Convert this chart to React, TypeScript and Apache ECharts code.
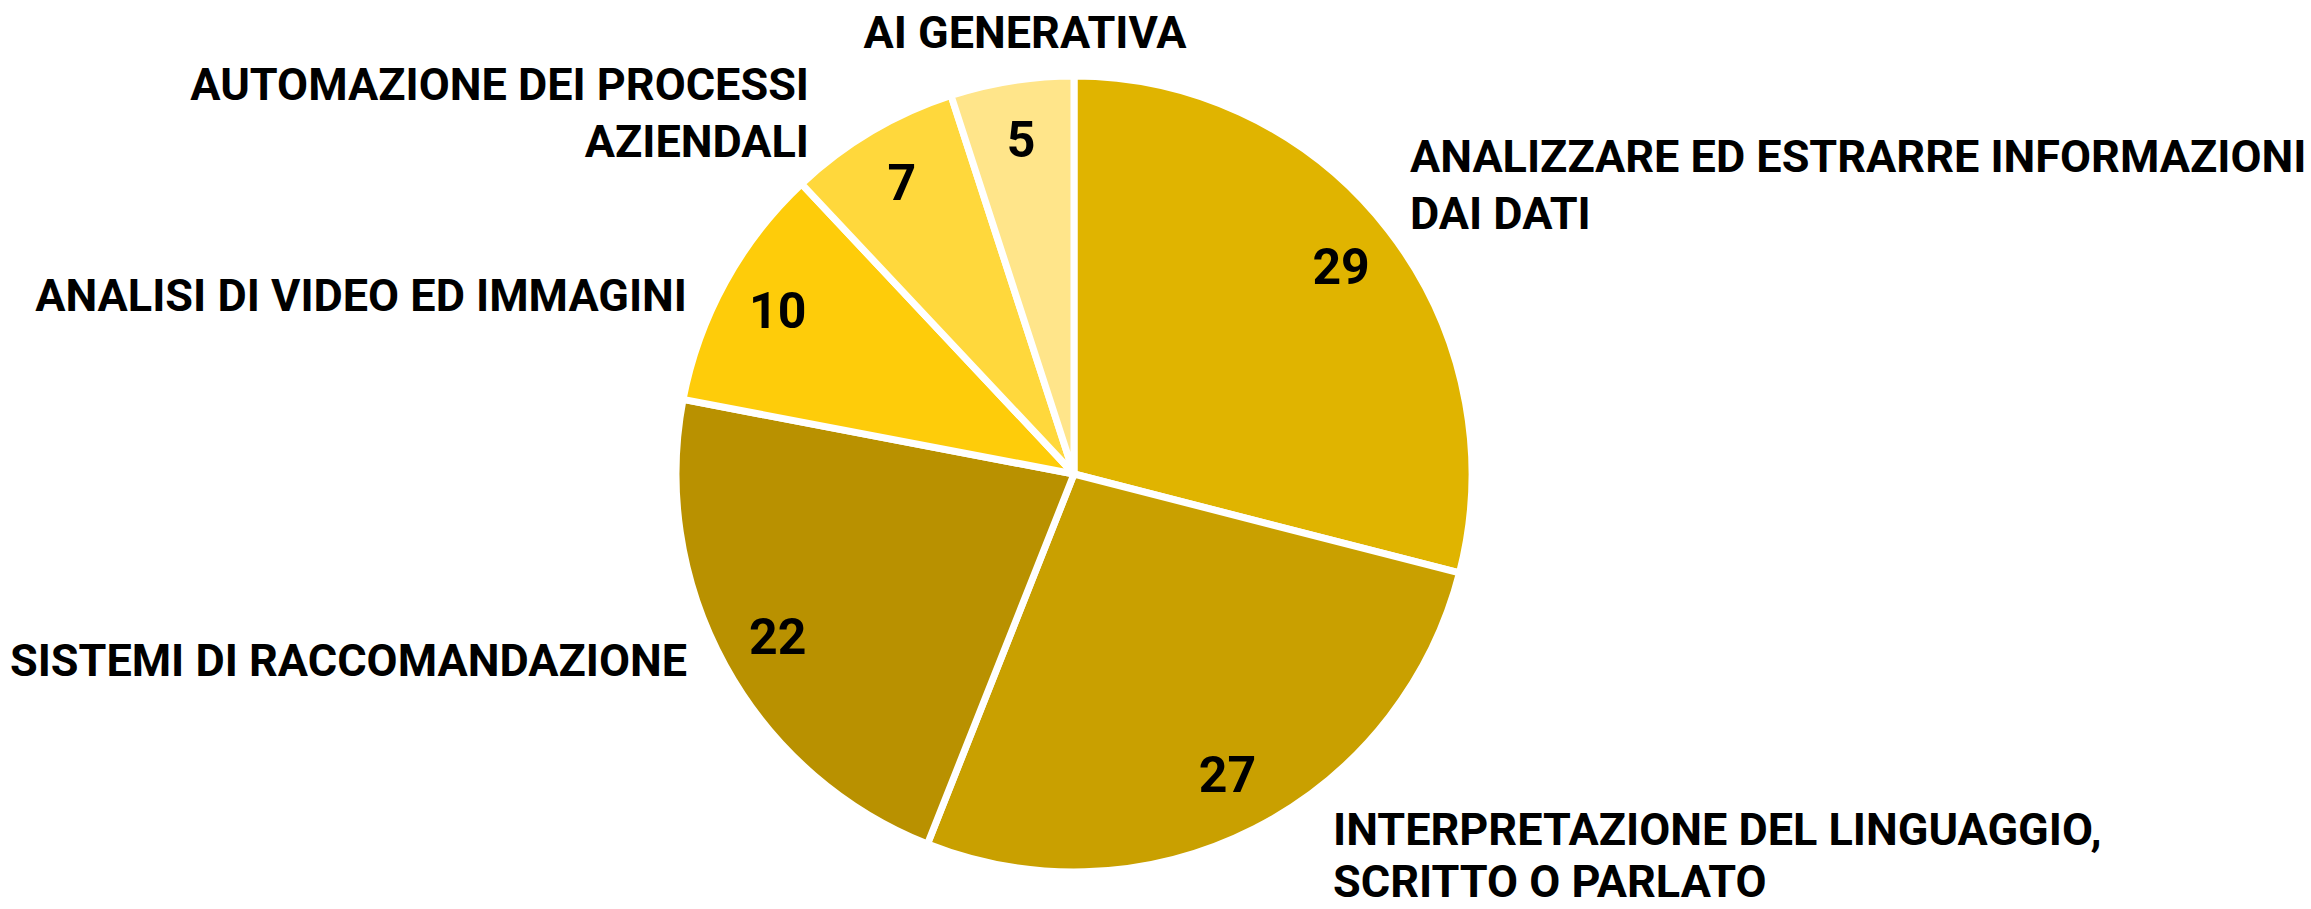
import React, { useEffect, useRef } from "react";
import * as echarts from "echarts";

// ---- data ----
const categories = [
  "ANALIZZARE ED ESTRARRE INFORMAZIONI\nDAI DATI",
  "INTERPRETAZIONE DEL LINGUAGGIO,\nSCRITTO O PARLATO",
  "SISTEMI DI RACCOMANDAZIONE",
  "ANALISI DI VIDEO ED IMMAGINI",
  "AUTOMAZIONE DEI PROCESSI\nAZIENDALI",
  "AI GENERATIVA",
];
const values = [29, 27, 22, 10, 7, 5];
const colors = ["#E0B400", "#C9A000", "#B99100", "#FECC0A", "#FFD83C", "#FFE58A"];

// ---- layout / style ----
const CX = 1074;
const CY = 474;
const R = 398;
const R_VALUE_INNER = 272;
// name-label anchors relative to pie centre: [dx, dy, align, lineHeight]
const nameAnchors: [number, number, string, number][] = [
  [336, -289, "left", 57],
  [259, 381, "left", 52],
  [-387, 186, "right", 57],
  [-387, -179, "right", 57],
  [-265, -361, "right", 57],
  [-49, -442, "center", 57],
];
const FONT = "Roboto, 'Noto Sans', sans-serif";

export default function App() {
  const ref = useRef<HTMLDivElement>(null);
  useEffect(() => {
    const chart = echarts.init(ref.current!, null, { renderer: "svg" });
    const data = categories.map((name, i) => ({
      name,
      value: values[i],
      itemStyle: { color: colors[i] },
      label: { lineHeight: nameAnchors[i][3] },
    }));
    chart.setOption({
      animation: false,
      backgroundColor: "#ffffff",
      series: [
        {
          type: "pie",
          center: [CX, CY],
          radius: R,
          startAngle: 90,
          clockwise: true,
          avoidLabelOverlap: false,
          silent: true,
          itemStyle: { borderColor: "#ffffff", borderWidth: 7 },
          label: {
            show: true,
            position: "outside",
            formatter: "{b}",
            color: "#000000",
            fontFamily: FONT,
            fontWeight: "bold",
            fontSize: 45,
            lineHeight: 57,
            overflow: "none",
          },
          labelLine: { show: false },
          labelLayout: (p: any) => {
            const a = nameAnchors[p.dataIndex];
            return { x: CX + a[0], y: CY + a[1], align: a[2], verticalAlign: "middle" };
          },
          data,
        },
        {
          type: "pie",
          center: [CX, CY],
          radius: [R_VALUE_INNER, R],
          startAngle: 90,
          clockwise: true,
          avoidLabelOverlap: false,
          silent: true,
          itemStyle: { color: "rgba(0,0,0,0)", borderWidth: 0 },
          label: {
            show: true,
            position: "inside",
            formatter: "{c}",
            color: "#000000",
            fontFamily: FONT,
            fontWeight: "bold",
            fontSize: 50,
          },
          labelLine: { show: false },
          data: categories.map((name, i) => ({ name, value: values[i] })),
        },
      ],
    });
    return () => chart.dispose();
  }, []);
  return <div ref={ref} style={{ position: "fixed", left: 0, top: 0, width: 2311, height: 909 }} />;
}
